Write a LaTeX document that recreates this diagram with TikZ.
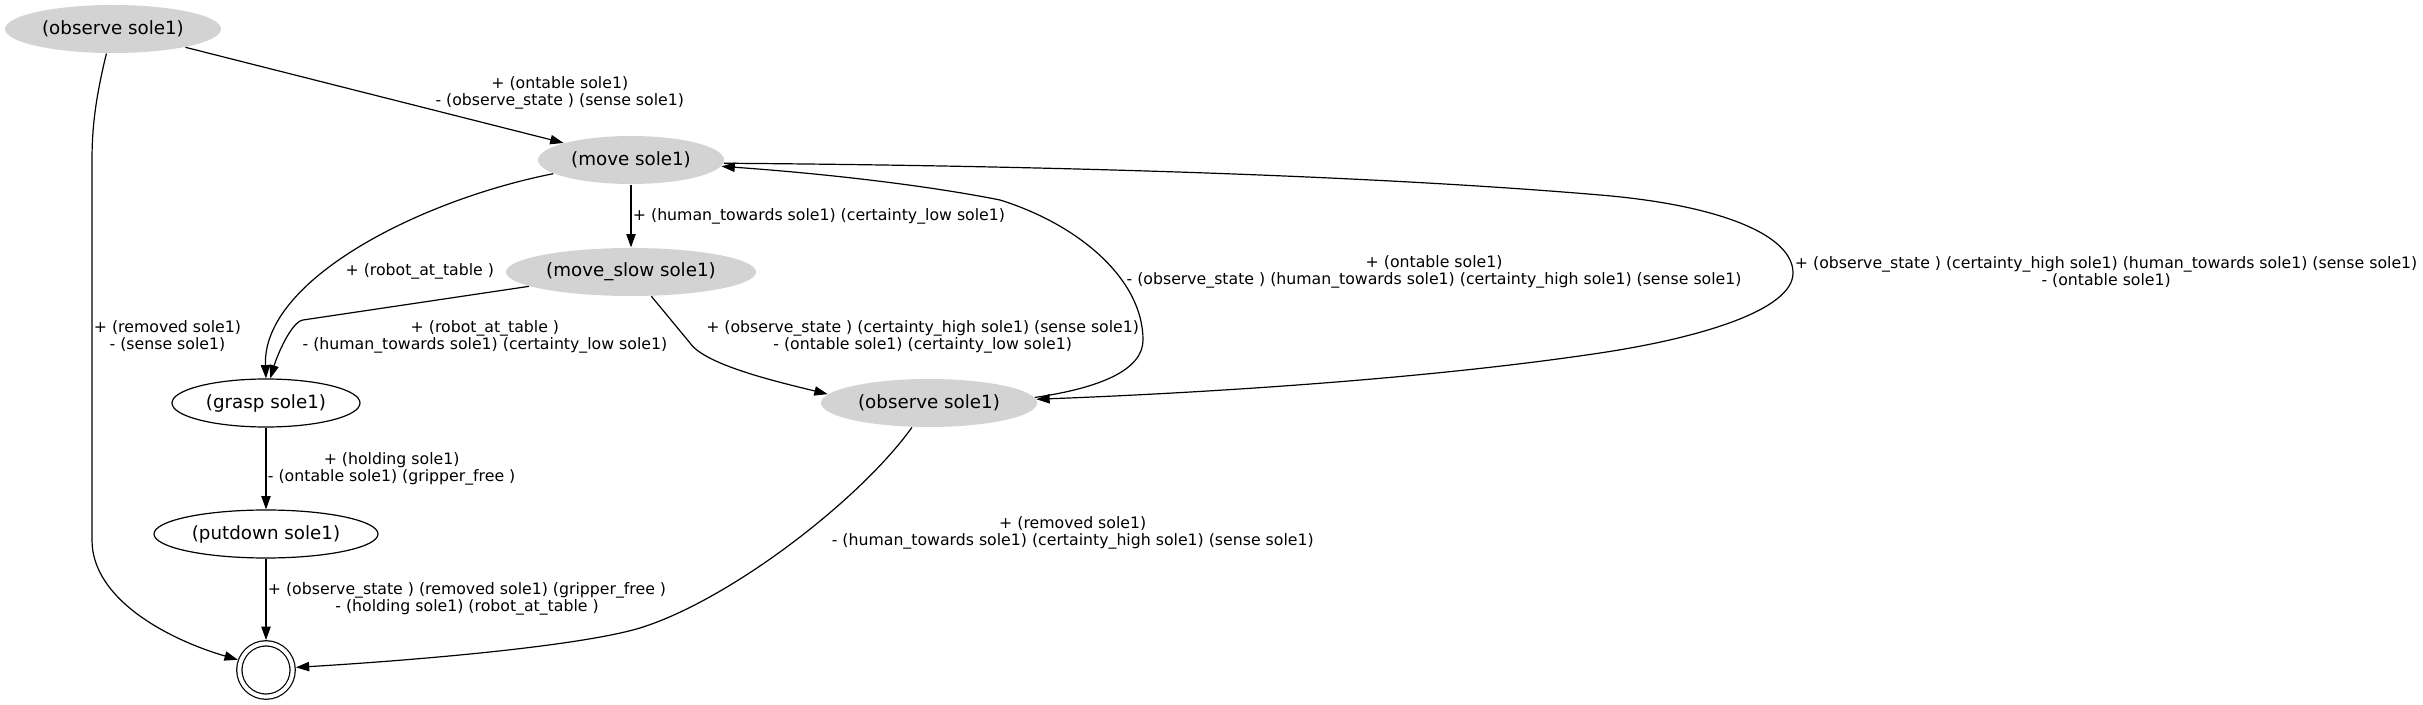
\documentclass[tikz,border=0pt]{standalone}
\usepackage{fontspec}
\setmainfont{DejaVu Sans}
\usetikzlibrary{automata,positioning,shapes.geometric,arrows.meta}
\definecolor{nodegray}{HTML}{D3D3D3}
\newcommand{\nodefont}{\fontsize{13.7}{16}\selectfont}
\newcommand{\lblfont}{\fontsize{11.8}{12.75}\selectfont}
\tikzset{
  act/.style={ellipse, fill=nodegray, minimum height=36pt, inner sep=0pt, font=\nodefont},
  done/.style={ellipse, draw, minimum height=36pt, inner sep=0pt, font=\nodefont},
  lbl/.style={font=\lblfont, align=center, inner sep=1pt},
}

\begin{document}
\begin{tikzpicture}[x=0.75pt,y=-0.75pt,line width=0.9pt,on grid,>={Triangle[length=10pt,width=7pt]}]
	\fill[white] (0,0) rectangle (2423,705);
	\useasboundingbox (0,0) rectangle (2423,705);
	% states
	\node[act, minimum width=162pt] (obs0) at (113,29) {(observe sole1)};
	\node[act, minimum width=139.5pt] (move) at (631,160) {(move sole1)};
	\node[act, minimum width=187.5pt] (slow) [below=84pt of move] {(move\_slow sole1)};
	\node[done, minimum width=141pt] (grasp) at (266,403) {(grasp sole1)};
	\node[act, minimum width=162pt] (obs1) at (929,403) {(observe sole1)};
	\node[done, minimum width=168pt] (putdown) [below=98.25pt of grasp] {(putdown sole1)};
	\node[state, accepting, minimum size=40pt, inner sep=0pt, double distance=3pt, outer sep=2.5pt] (fin) [below=102pt of putdown] {};
	% straight transitions
	\path[->]
	(obs0) edge node[lbl, pos=.99, above=23pt] {+ (ontable sole1)\\- (observe\_state ) (sense sole1)} (move)
	(move) edge node[lbl, midway, right] {+ (human\_towards sole1) (certainty\_low sole1)} (slow)
	(grasp) edge node[lbl, midway, right] {+ (holding sole1)\\- (ontable sole1) (gripper\_free )} (putdown)
	(putdown) edge node[lbl, midway, right] {+ (observe\_state ) (removed sole1) (gripper\_free )\\- (holding sole1) (robot\_at\_table )} (fin);
	% curved transitions
	\draw[->] (move.190) .. controls (420,200) and (262,280) .. node[lbl, pos=.6, right=12.5pt] {+ (robot\_at\_table )} (grasp.north);
	\draw[->] (slow.188) -- (303,320) .. controls (291,322) and (277,356) .. node[lbl, pos=.5, right=12pt, yshift=3.7pt] {+ (robot\_at\_table )\\- (human\_towards sole1) (certainty\_low sole1)} (grasp.80);
	\draw[->] (slow.310) -- node[lbl, pos=.86, right=14.8pt] {+ (observe\_state ) (certainty\_high sole1) (sense sole1)\\- (ontable sole1) (certainty\_low sole1)} (690,343) .. controls (705,365) and (778,382) .. (obs1.175);
	\draw[->] (move.358) .. controls (1100,166) and (1400,178) .. (1600,195) .. controls (1720,205) and (1793,235) .. node[lbl, at end, right=0pt, yshift=1pt] {+ (observe\_state ) (certainty\_high sole1) (human\_towards sole1) (sense sole1)\\- (ontable sole1)} (1793,273) .. controls (1793,310) and (1700,338) .. (1600,353) .. controls (1400,383) and (1150,395) .. (obs1.2);
	\draw[->] (obs1.3) .. controls (1100,388) and (1143,370) .. (1143,340) .. controls (1143,280) and (1080,225) .. node[lbl, pos=.4, right=6.75pt] {+ (ontable sole1)\\- (observe\_state ) (human\_towards sole1) (certainty\_high sole1) (sense sole1)} (1000,200) .. controls (930,186) and (830,174) .. (move.356);
	\draw[->] (obs0.255) .. controls (95,100) and (92,130) .. (92,160) -- node[lbl, pos=.464, right] {+ (removed sole1)\\- (sense sole1)} (92,540) .. controls (92,600) and (170,640) .. (fin.160);
	\draw[->] (obs1.235) .. controls (860,500) and (730,600) .. node[lbl, pos=.45, right=18.5pt] {+ (removed sole1)\\- (human\_towards sole1) (certainty\_high sole1) (sense sole1)} (640,628) .. controls (580,646) and (420,660) .. (fin.5);
\end{tikzpicture}
\end{document}
